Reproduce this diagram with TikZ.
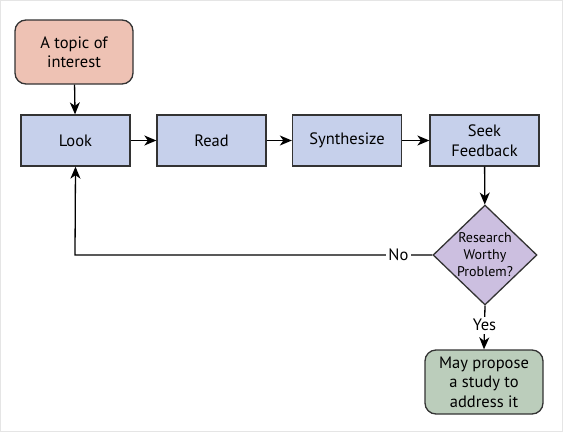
\documentclass[tikz,border=0pt]{standalone}
\usepackage{fontspec}
\setmainfont{PT Sans}
\usetikzlibrary{shapes.geometric,arrows.meta}
\definecolor{topicfill}{HTML}{EEC2B4}
\definecolor{stepfill}{HTML}{C6D0EB}
\definecolor{decfill}{HTML}{CCBFE0}
\definecolor{endfill}{HTML}{BBCDBB}
\definecolor{edge}{HTML}{333333}
\begin{document}
\begin{tikzpicture}[x=1pt,y=-1pt,
  every node/.style={font=\fontsize{16.5}{19.5}\selectfont, align=center, inner sep=0pt},
  stepbox/.style={draw=edge, line width=1.3pt, fill=stepfill, minimum width=109pt, minimum height=51pt},
  roundbox/.style={draw=edge, line width=1.3pt, rounded corners=11pt, minimum width=118pt, minimum height=64pt},
  decision/.style={draw=edge, line width=1.3pt, fill=decfill, diamond, aspect=1.04, minimum width=104pt, minimum height=100pt, font=\fontsize{14}{17}\selectfont},
  flow/.style={draw=black, line width=1.3pt, -{Stealth[length=12pt,width=10pt,inset=3.5pt]}},
  lbl/.style={fill=white, inner sep=2.5pt}
]
\useasboundingbox (0,0) rectangle (563,432);
\draw[draw=black!10, line width=0.8pt] (0.4,0.4) rectangle (562.6,431.6);
\node[roundbox, fill=topicfill] (topic) at (74,52) {A topic of\\interest};
\node[stepbox] (look) at (75.5,140.5) {Look};
\node[stepbox] (read) at (211.5,140.5) {Read};
\node[stepbox] (synth) at (347,140.5) {Synthesize};
\node[stepbox] (seek) at (484.5,140.5) {Seek\\Feedback};
\node[decision] (dec) at (485,255) {Research\\Worthy\\Problem?};
\node[roundbox, fill=endfill] (final) at (484,382) {May propose\\a study to\\address it};
\coordinate (corner) at (75,255);
\draw[flow] (topic) -- (look);
\draw[flow] (look) -- (read);
\draw[flow] (read) -- (synth);
\draw[flow] (synth) -- (seek);
\draw[flow] (seek) -- (dec);
\draw[flow] (dec.south) -- node[lbl, pos=0.45] {Yes} (final.north);
\draw[flow] (dec.west) -- node[lbl, pos=0.095] {No} (corner) -- (look.south);
\end{tikzpicture}
\end{document}
